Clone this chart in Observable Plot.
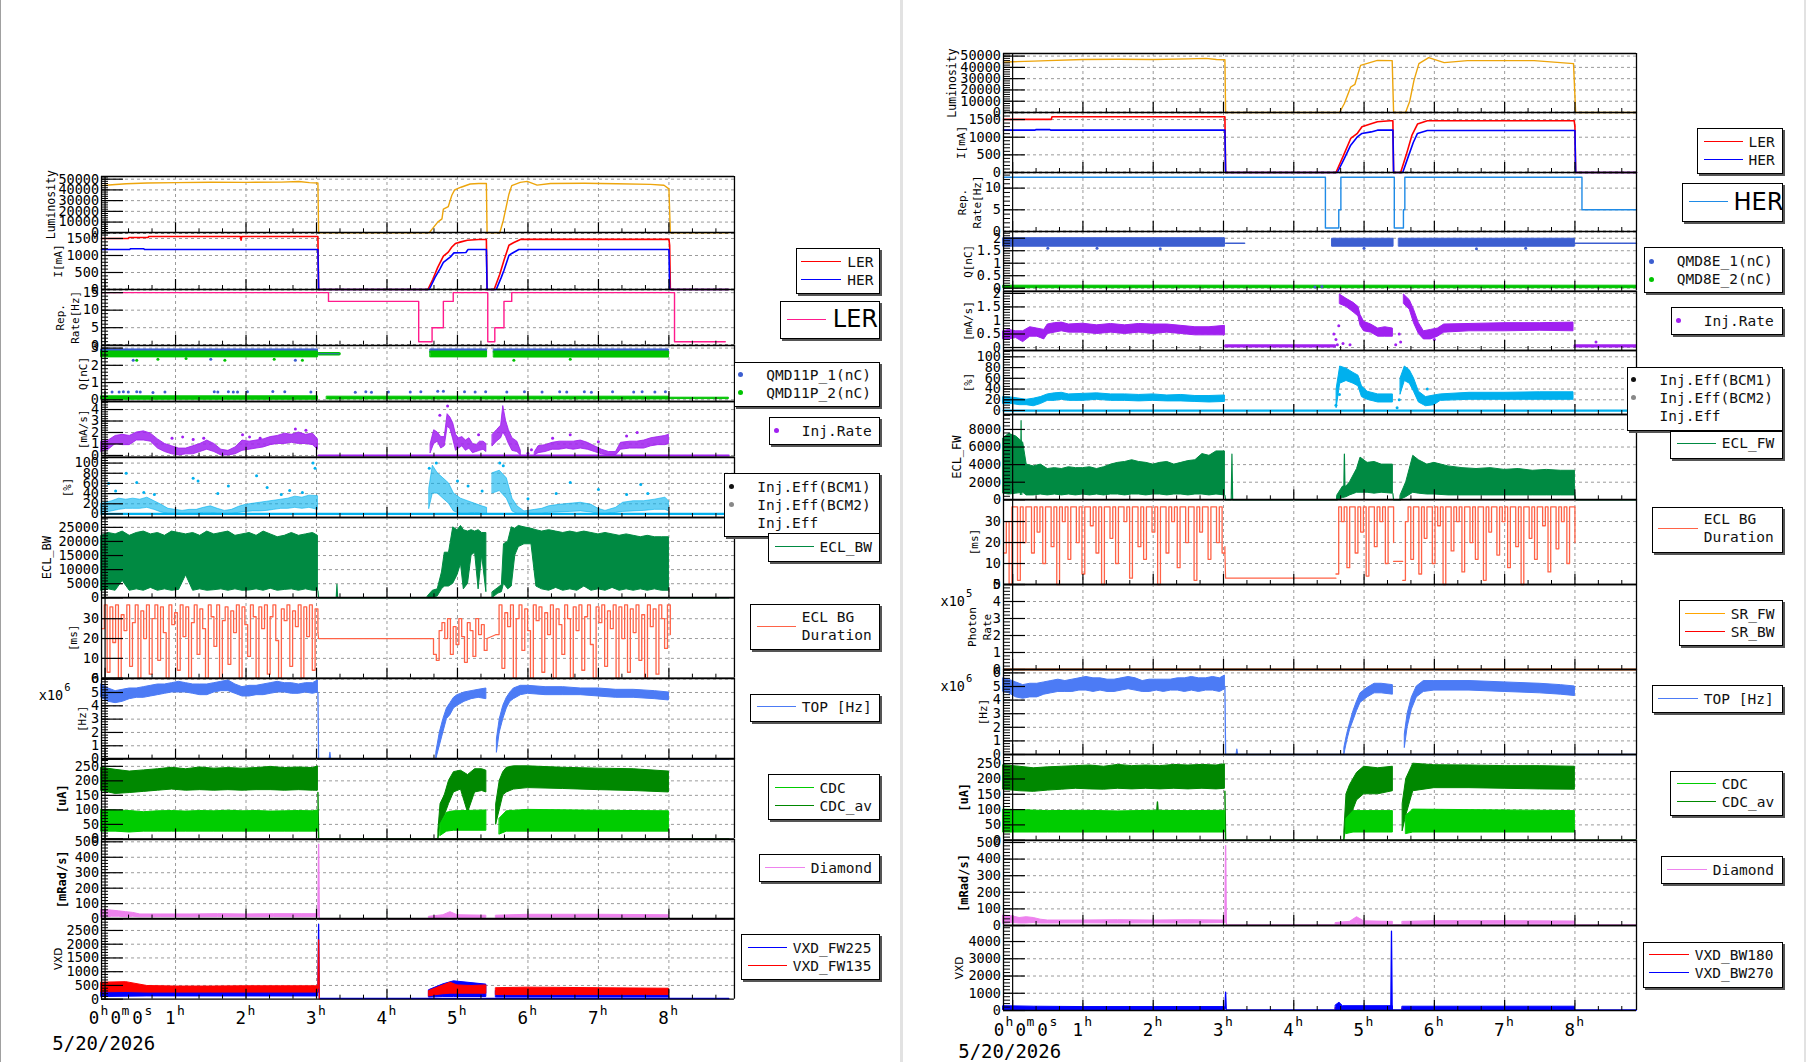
<!DOCTYPE html>
<html>
<head>
<meta charset="utf-8">
<script src="https://cdn.jsdelivr.net/npm/d3@7"></script>
<script src="https://cdn.jsdelivr.net/npm/@observablehq/plot@0.6"></script>
<style>
html,body{margin:0;padding:0;background:#fff;}
#page{position:relative;width:1806px;height:1062px;overflow:hidden;background:#fff;}
.pnl{position:absolute;}
.pnl svg{display:block;}
.lg{position:absolute;box-sizing:border-box;border:1.5px solid #000;background:#fff;box-shadow:2px 2px 0 #555;font-family:"DejaVu Sans Mono",monospace;font-size:14.5px;color:#111;}
.lg .t{position:absolute;white-space:pre;line-height:18px;height:18px;}
.lg .ln{position:absolute;height:0;}
.lg .dt{position:absolute;width:5px;height:5px;border-radius:50%;}
.sep{position:absolute;top:0;height:1062px;}
</style>
</head>
<body>
<div id="page"></div>
<script>
// ================= DATA (hours since 0h) =================
const hourTicks = [0,1,2,3,4,5,6,7,8];
const dateLabel = "5/20/2026";

// ---------- LEFT (LER) ----------
const lumL = [[-0.05,44000],[0.1,44800],[0.3,45800],[0.6,46500],[1.0,46800],[1.5,47200],[2.0,47000],[2.5,47300],[2.75,47800],[2.9,46800],[3.02,46500],[3.03,0],[4.6,0],[4.66,5000],[4.72,10000],[4.78,13000],[4.8,22000],[4.87,24500],[4.92,35000],[4.96,40000],[5.05,42500],[5.18,45500],[5.3,46000],[5.41,46000],[5.42,0],[5.6,0],[5.65,11500],[5.73,36000],[5.77,44000],[5.89,47000],[5.99,48000],[6.13,44500],[6.32,46000],[6.8,46200],[7.26,45800],[7.74,45200],[7.93,44300],[8.0,41000],[8.02,0],[8.85,0]];
const lerL = [[-0.05,1500],[0.33,1500],[0.34,1530],[0.61,1530],[0.62,1560],[1.92,1560],[1.93,1450],[1.94,1560],[3.02,1560],[3.03,0],[4.58,0],[4.65,300],[4.72,650],[4.8,980],[4.87,1100],[4.92,1250],[4.97,1350],[5.05,1400],[5.14,1450],[5.3,1470],[5.41,1470],[5.42,0],[5.52,0],[5.6,450],[5.66,860],[5.73,1300],[5.8,1380],[5.87,1450],[5.9,1475],[8.0,1475],[8.01,1300],[8.02,0],[8.85,0]];
const herL = [[-0.05,1176],[0.35,1176],[0.36,1200],[0.55,1200],[0.56,1176],[3.02,1176],[3.03,0],[4.6,0],[4.68,350],[4.75,600],[4.8,794],[4.9,960],[4.95,1076],[5.12,1090],[5.15,1176],[5.41,1176],[5.42,0],[5.55,0],[5.62,350],[5.66,567],[5.73,1000],[5.77,1060],[5.87,1176],[8.0,1176],[8.01,0],[8.85,0]];
const repL = [[-0.05,15],[3.17,15],[3.17,12.5],[4.45,12.5],[4.45,1],[4.64,1],[4.64,5],[4.8,5],[4.8,12.5],[4.94,12.5],[4.94,15],[5.43,15],[5.43,1],[5.53,1],[5.53,5],[5.66,5],[5.66,12.5],[5.77,12.5],[5.77,15],[8.08,15],[8.08,1],[8.8,1]];
const q1UpL = [[[-0.05,2.72,2.92],[3.02,2.72,2.92]],[[4.62,2.72,2.92],[5.42,2.72,2.92]],[[5.52,2.72,2.92],[8.0,2.72,2.92]]];
const q2UpL = [[[-0.05,2.46,2.8],[3.02,2.46,2.8]],[[4.62,2.46,2.8],[5.42,2.46,2.8]],[[5.52,2.45,2.8],[8.0,2.45,2.8]]];
const q2LowL = [[[-0.05,0.0,0.2],[3.02,0.0,0.2]],[[3.15,0.02,0.18],[8.0,0.02,0.18]],[[8.0,0.04,0.12],[8.85,0.04,0.12]]];
const qTailL = [[3.03,2.67],[3.32,2.67]];
const q1DotsL = [[0.1,0.45],[0.2,0.45],[0.26,0.47],[0.33,0.45],[0.45,0.46],[0.5,0.45],[0.68,0.42],[0.85,0.45],[1.55,0.46],[1.6,0.45],[1.75,0.47],[1.82,0.45],[1.88,0.45],[2.02,0.47],[2.38,0.48],[2.55,0.47],[2.92,0.45],[3.55,0.44],[3.7,0.46],[3.78,0.44],[4.02,0.45],[4.33,0.45],[4.48,0.46],[4.72,0.5],[4.8,0.5],[5.1,0.46],[5.25,0.45],[5.4,0.47],[5.7,0.45],[5.95,0.46],[6.2,0.45],[6.45,0.47],[6.55,0.45],[6.8,0.46],[6.9,0.44],[7.2,0.47],[7.5,0.45],[7.62,0.46],[7.8,0.45],[7.95,0.47],[0.4,2.3],[1.5,2.35],[2.7,2.3]];
const q2DotsL = [[0.45,2.3],[0.75,2.35],[1.15,2.4],[1.7,2.3],[2.4,2.35],[2.8,2.3],[5.8,2.3],[6.6,2.35]];
const injL = [
 [[-0.05,0.3,1.2],[0.05,0.5,1.3],[0.15,1.0,1.7],[0.25,0.9,1.8],[0.35,0.9,1.7],[0.45,1.3,2.0],[0.55,1.3,2.1],[0.65,1.2,1.9],[0.75,0.6,1.4],[0.85,0.3,1.0],[0.95,0.1,0.8],[1.05,0.0,0.6],[1.15,0.1,0.6],[1.25,0.1,0.8],[1.35,0.3,1.0],[1.45,0.5,1.3],[1.55,0.3,1.0],[1.65,0.0,0.5],[1.75,0.0,0.4],[1.85,0.1,0.7],[1.95,0.4,1.3],[2.05,0.5,1.2],[2.15,0.6,1.3],[2.25,0.7,1.4],[2.35,0.9,1.6],[2.45,1.0,1.7],[2.55,1.0,1.9],[2.65,1.1,1.8],[2.75,1.0,2.0],[2.85,1.0,1.8],[2.95,0.9,1.9],[3.02,0.5,1.4]],
 [[4.62,0.2,1.0],[4.67,1.0,2.2],[4.72,1.2,2.0],[4.77,0.6,1.6],[4.82,0.8,1.6],[4.86,2.5,3.6],[4.9,2.3,3.3],[4.94,1.4,2.8],[4.98,0.4,1.8],[5.02,0.6,1.5],[5.07,0.8,1.6],[5.12,0.4,1.3],[5.17,0.6,1.5],[5.22,0.2,1.0],[5.27,0.3,0.9],[5.32,0.4,1.2],[5.37,0.5,1.2],[5.41,0.3,1.0]],
 [[5.5,0.8,1.8],[5.56,1.2,2.2],[5.62,1.5,2.6],[5.65,2.0,4.3],[5.69,1.6,3.0],[5.73,1.0,2.2],[5.78,0.4,1.5],[5.85,0.3,1.2],[5.9,0.0,0.4]],
 [[6.1,0.0,0.3],[6.15,0.2,0.8],[6.25,0.3,0.9],[6.35,0.5,1.1],[6.45,0.5,1.2],[6.55,0.6,1.2],[6.65,0.5,1.2],[6.75,0.6,1.3],[6.85,0.5,1.1],[6.95,0.3,0.8],[7.05,0.1,0.5],[7.15,0.0,0.3],[7.25,0.0,0.3],[7.32,0.5,1.1],[7.45,0.6,1.2],[7.55,0.6,1.2],[7.65,0.6,1.3],[7.75,0.8,1.5],[7.85,0.9,1.6],[7.95,0.9,1.7],[8.0,1.0,1.8]]
];
const injBaseL = [[3.03,0],[8.85,0]];
const injDotsL = [[0.95,1.5],[1.1,1.6],[1.25,1.4],[1.4,1.5],[1.95,1.8],[2.05,1.6],[2.2,1.5],[2.7,2.3],[2.85,2.2],[4.75,3.5],[4.86,4.3],[5.3,1.8],[6.0,0.2],[6.05,0.5],[6.35,1.5],[6.6,1.8],[7.0,1.2],[7.4,1.7],[7.55,2.0]];
const effL = [
 [[-0.05,2,20],[0.1,5,25],[0.2,8,30],[0.3,10,28],[0.4,10,30],[0.5,10,28],[0.6,12,32],[0.7,8,25],[0.8,3,18],[0.9,0,10],[1.0,0,8],[1.1,0,6],[1.2,0,8],[1.3,0,8],[1.4,2,12],[1.5,2,15],[1.6,0,10],[1.7,0,6],[1.8,0,8],[1.9,2,14],[2.0,4,18],[2.1,5,20],[2.2,5,22],[2.3,6,24],[2.4,8,26],[2.5,10,28],[2.6,10,30],[2.7,12,34],[2.8,10,32],[2.9,12,36],[3.02,8,35]],
 [[4.6,10,50],[4.65,40,95],[4.72,40,80],[4.8,30,70],[4.88,20,60],[4.95,5,40],[5.05,0,30],[5.15,0,25],[5.25,2,20],[5.35,0,15],[5.42,0,12]],
 [[5.5,40,80],[5.6,45,85],[5.7,30,70],[5.78,5,30],[5.85,0,15],[5.95,0,5],[6.1,0,8],[6.2,0,10],[6.3,2,15],[6.45,3,18],[6.6,4,20],[6.75,5,22],[6.9,3,18],[7.0,0,10],[7.1,0,6],[7.25,2,12],[7.35,4,22],[7.5,5,25],[7.65,6,25],[7.8,8,28],[7.95,8,32],[8.0,5,25]]
];
const effBaseL = [[-0.05,0],[8.85,0]];
const effDotsL = [[0.05,60],[0.15,45],[0.3,80],[0.45,62],[0.55,42],[0.7,38],[1.25,70],[1.32,65],[1.6,40],[1.75,55],[2.15,75],[2.3,52],[2.5,38],[2.62,46],[2.8,42],[2.95,100],[2.98,90],[4.6,90],[4.7,100],[5.0,65],[5.15,55],[5.35,45],[5.6,100],[5.65,95],[6.0,30],[6.4,40],[6.6,62],[7.0,48],[7.4,38],[7.6,58],[7.7,40]];
const eclL = [
 [[-0.05,2500,22000],[0.05,3000,23000],[0.15,2500,22500],[0.25,6000,23500],[0.35,2500,22000],[0.45,3000,23000],[0.55,2500,23500],[0.65,3500,22500],[0.75,2500,23000],[0.85,3000,22000],[0.95,2500,23500],[1.05,2800,23000],[1.15,8000,22500],[1.25,2500,23000],[1.35,3000,22000],[1.45,2500,23500],[1.55,2700,22500],[1.65,3000,23000],[1.75,2500,23500],[1.85,3000,22000],[1.95,2500,22500],[2.05,2600,23000],[2.15,3000,22000],[2.25,2500,23500],[2.35,3200,22500],[2.45,2500,21500],[2.55,2800,22000],[2.65,3000,23000],[2.75,2500,22000],[2.85,3000,22500],[2.95,2500,23000],[3.02,2500,22000]],
 [[4.58,0,500],[4.65,0,2500],[4.72,500,3000],[4.78,3000,9000],[4.82,4000,16000],[4.88,4000,16000],[4.94,5000,25000],[5.0,8000,24000],[5.05,12000,25500],[5.09,3000,24000],[5.15,5000,23500],[5.2,15000,24000],[5.25,16000,23500],[5.3,3000,24000],[5.35,15000,23000],[5.41,2000,23000]],
 [[5.5,0,2000],[5.58,1500,3500],[5.63,2000,4500],[5.66,5000,19000],[5.72,3000,20000],[5.77,4000,25000],[5.82,15000,24500],[5.87,18000,25500],[5.95,19000,25000],[6.05,19000,24500],[6.12,4000,24000],[6.2,3000,23500],[6.3,2500,24000],[6.4,3500,23500],[6.5,2500,23000],[6.6,3000,23500],[6.7,2500,23000],[6.8,4000,23500],[6.9,2500,23000],[7.0,3000,22500],[7.1,2500,23000],[7.2,3500,22500],[7.3,2500,22000],[7.4,3000,22500],[7.5,2500,22000],[7.6,3000,21500],[7.7,2500,22000],[7.8,3000,21500],[7.9,2500,21500],[8.0,2500,21500]]
];
const eclBaseL = [[3.02,2500],[3.03,0],[3.28,0],[3.29,4800],[3.3,0],[8.85,0]];
const bgL = [
 {t0:-0.05, t1:3.02, v:[25,37,3,36,18,37,0,32,24,37,6,28,37,0,34,20,37,2,30,37,9,36,23,0,37,27,33,4,37,21,36,0,28,37,12,35,25,0,37,31,16,37,0,29,36,7,34,23,37,0,36,27,11,37,31,0,36,25,37,2,31,37,19,0,35,29,37,6,34,26,37,0,36,21,37,4,35,23]},
 {t0:4.62, t1:5.42, v:[20,12,9,24,28,20,30,12,26,17,30,21,8,28,24,11,30,22,27,14,20]},
 {t0:5.55, t1:8.02, v:[22,37,5,33,26,37,0,30,37,14,35,24,0,37,29,36,3,33,22,37,0,35,27,12,37,30,0,36,24,37,4,31,37,17,0,36,28,37,6,34,25,37,0,36,20,37,3,35,23,37,9,32,0,37,26,35,2,37,30,15,37,22]}
];
const bgFlatL = [[[3.02,23],[3.03,20],[4.62,20]],[[5.42,20],[5.55,22]]];
const topL = [
 [[-0.05,4.6,5.6],[0.05,4.3,5.3],[0.15,4.2,5.1],[0.25,4.3,5.2],[0.35,4.5,5.3],[0.45,4.6,5.3],[0.55,4.6,5.4],[0.65,4.7,5.5],[0.75,4.8,5.6],[0.85,4.9,5.6],[0.95,5.0,5.7],[1.05,5.0,5.8],[1.15,5.0,5.7],[1.25,4.9,5.6],[1.35,4.8,5.6],[1.45,4.8,5.6],[1.55,5.0,5.7],[1.65,5.1,5.8],[1.75,5.1,5.9],[1.85,4.9,5.6],[1.95,4.7,5.4],[2.05,4.7,5.5],[2.15,4.8,5.5],[2.25,4.8,5.6],[2.35,4.9,5.7],[2.45,5.0,5.8],[2.55,5.0,5.7],[2.65,4.9,5.7],[2.75,4.9,5.6],[2.85,5.0,5.7],[2.95,4.9,5.7],[3.02,5.0,5.9]],
 [[4.7,0,0.5],[4.75,1,2],[4.8,2,3],[4.85,3,3.8],[4.9,3.3,4.2],[4.95,3.8,4.6],[5.0,4.0,4.8],[5.1,4.3,5.0],[5.2,4.5,5.1],[5.3,4.6,5.2],[5.41,4.5,5.3]],
 [[5.56,0.5,1.5],[5.6,2,3],[5.65,3,4],[5.7,3.8,4.6],[5.75,4.3,5.0],[5.8,4.5,5.3],[5.9,4.8,5.5],[6.0,4.9,5.5],[6.25,4.8,5.4],[6.5,4.8,5.4],[6.75,4.8,5.3],[7.0,4.7,5.3],[7.25,4.6,5.2],[7.5,4.6,5.2],[7.8,4.5,5.1],[8.0,4.4,5.0]]
];
const topBaseL = [[3.02,5.0],[3.03,0],[3.18,0],[3.19,0.5],[3.2,0],[8.85,0]];
const cdcavL = [
 [[-0.05,165,245],[0.15,155,238],[0.35,158,232],[0.55,162,236],[0.75,166,240],[0.95,170,245],[1.15,166,240],[1.35,168,246],[1.55,166,242],[1.75,168,244],[1.95,166,242],[2.15,168,244],[2.35,168,248],[2.55,166,244],[2.75,168,246],[2.95,166,244],[3.02,166,250]],
 [[4.73,0,30],[4.76,50,120],[4.82,80,150],[4.88,120,200],[4.95,160,230],[5.05,170,235],[5.15,90,220],[5.25,160,240],[5.35,165,240],[5.41,160,235]],
 [[5.55,50,120],[5.6,100,200],[5.65,150,230],[5.7,160,245],[5.8,170,250],[6.0,175,250],[6.5,172,245],[7.0,168,242],[7.5,165,240],[8.0,160,232]]
];
const cdcL = [
 [[-0.05,25,100],[0.15,25,98],[0.35,22,96],[0.55,25,92],[0.75,25,95],[0.95,25,96],[1.15,25,94],[1.35,25,96],[1.55,25,95],[1.75,25,97],[1.95,25,95],[2.15,25,96],[2.35,25,94],[2.55,25,95],[2.75,25,96],[2.95,25,95],[3.02,25,98]],
 [[4.76,10,50],[4.85,25,90],[4.95,28,95],[5.41,28,98]],
 [[5.6,15,70],[5.7,25,95],[6.0,25,100],[7.0,25,97],[8.0,25,95]]
];
const cdcBaseL = [[3.02,160],[3.03,0],[8.85,0]];
const diaL = [
 [[-0.05,10,60],[0.1,15,55],[0.2,15,50],[0.3,12,45],[0.4,15,40],[0.5,12,30],[0.8,13,30],[1.2,12,30],[1.6,13,32],[2.0,12,30],[2.4,13,32],[2.8,12,32],[3.02,13,32]],
 [[4.6,5,15],[4.8,8,25],[4.9,10,45],[5.0,8,25],[5.41,8,22]],
 [[5.55,8,22],[6.0,10,28],[7.0,10,28],[8.0,10,25]]
];
const diaBaseL = [[3.02,20],[3.03,484],[3.04,0],[8.85,0]];
const vxdRedL = [
 [[-0.05,250,600],[0.3,260,620],[0.6,240,480],[1.0,240,460],[1.5,240,460],[2.0,240,470],[2.5,240,470],[3.02,240,470]],
 [[4.6,100,300],[4.7,150,400],[4.8,180,500],[4.9,200,600],[5.0,200,500],[5.2,200,480],[5.41,200,500]],
 [[5.55,150,400],[6.0,150,420],[7.0,150,400],[8.0,150,380]]
];
const vxdBlueL = [
 [[-0.05,80,260],[0.6,100,250],[3.02,100,250]],
 [[4.6,60,330],[4.8,80,540],[4.95,80,650],[5.41,80,530]],
 [[5.55,60,300],[8.0,60,300]]
];
const vxdSpikeBlueL = [[3.02,250],[3.03,2730],[3.04,25],[8.85,25]];
const vxdSpikeRedL = [[3.02,400],[3.03,2160],[3.04,20]];

// ---------- RIGHT (HER) ----------
const lumR = [[-0.13,44500],[0.0,45000],[0.3,45500],[0.5,46000],[1.0,47000],[1.5,47200],[2.0,47000],[2.5,47500],[2.75,48000],[2.9,47000],[3.02,46800],[3.03,0],[4.65,0],[4.72,8000],[4.81,22600],[4.87,25000],[4.95,41800],[5.19,46200],[5.4,46000],[5.42,0],[5.59,0],[5.65,10000],[5.71,28500],[5.78,43300],[5.92,48600],[6.14,44200],[6.47,46000],[7.42,46000],[7.98,43300],[8.01,0],[8.876,0]];
const lerR = [[-0.13,1506],[0.55,1506],[0.56,1580],[3.02,1580],[3.03,0],[4.6,0],[4.7,450],[4.81,965],[4.9,1100],[4.97,1295],[5.1,1380],[5.19,1437],[5.37,1466],[5.41,1466],[5.42,0],[5.52,0],[5.6,500],[5.68,1050],[5.76,1372],[5.9,1466],[7.99,1466],[8.0,1300],[8.01,0],[8.876,0]];
const herR = [[-0.13,1200],[0.32,1200],[0.33,1215],[0.53,1215],[0.54,1200],[3.02,1200],[3.03,0],[4.62,0],[4.72,400],[4.81,775],[4.9,1000],[4.97,1107],[5.1,1150],[5.19,1200],[5.41,1200],[5.42,0],[5.55,0],[5.62,400],[5.7,850],[5.76,1107],[5.9,1190],[8.0,1190],[8.01,0],[8.876,0]];
const repR = [[-0.13,12.5],[4.45,12.5],[4.45,0.8],[4.64,0.8],[4.64,5],[4.67,5],[4.67,12.5],[5.43,12.5],[5.43,0.8],[5.56,0.8],[5.56,5],[5.58,5],[5.58,12.5],[8.1,12.5],[8.1,5],[8.876,5]];
const q1R = [[[-0.13,1.66,2.0],[3.02,1.66,2.0]],[[4.55,1.66,1.98],[5.42,1.66,1.98]],[[5.5,1.66,1.98],[8.0,1.66,1.98]]];
const q1LineR = [[[3.03,1.8],[3.3,1.8]],[[8.0,1.8],[8.876,1.8]]];
const q2R = [[[-0.13,0.0,0.1],[8.876,0.0,0.1]]];
const q1DotsR = [[0.5,1.6],[1.2,1.6],[2.1,1.58],[4.3,0.05],[4.4,0.07],[5.0,1.6],[6.6,1.58],[7.3,1.6]];
const injR = [
 [[-0.13,0.3,0.6],[-0.05,0.3,0.65],[0.05,0.35,0.6],[0.15,0.2,0.6],[0.25,0.4,0.75],[0.35,0.4,0.7],[0.45,0.3,0.65],[0.5,0.5,0.85],[0.6,0.55,0.9],[0.7,0.6,0.92],[0.8,0.55,0.85],[1.0,0.55,0.88],[1.2,0.5,0.82],[1.4,0.55,0.87],[1.6,0.5,0.82],[1.8,0.55,0.87],[2.0,0.5,0.85],[2.2,0.55,0.85],[2.4,0.5,0.8],[2.6,0.45,0.75],[2.8,0.45,0.75],[3.02,0.45,0.8]],
 [[3.03,0.0,0.08],[4.6,0.0,0.08]],
 [[4.66,1.6,1.95],[4.75,1.5,1.8],[4.85,1.3,1.65],[4.92,1.15,1.5],[4.95,0.8,1.2],[5.0,0.6,0.95],[5.1,0.55,0.85],[5.2,0.4,0.7],[5.3,0.4,0.75],[5.41,0.4,0.7]],
 [[5.57,1.6,1.95],[5.65,1.4,1.75],[5.71,0.9,1.4],[5.78,0.5,0.9],[5.85,0.3,0.6],[5.95,0.3,0.65],[6.05,0.4,0.7],[6.14,0.55,0.85],[6.5,0.6,0.87],[7.0,0.6,0.9],[7.5,0.62,0.9],[7.98,0.6,0.92]],
 [[8.0,0.0,0.08],[8.876,0.0,0.08]]
];
const injDotsR = [[4.57,0.5],[4.6,0.3],[4.62,0.1],[4.64,0.8],[4.7,0.15],[4.8,0.1],[5.45,0.1],[5.5,0.5],[5.52,0.2],[6.0,0.3],[8.3,0.2]];
const effR = [
 [[-0.13,12,25],[0.0,12,24],[0.1,10,22],[0.2,10,20],[0.3,8,22],[0.4,12,25],[0.5,18,30],[0.6,18,32],[0.7,20,33],[0.8,18,30],[1.0,18,31],[1.2,20,32],[1.4,18,30],[1.6,18,30],[1.8,17,29],[2.0,18,30],[2.2,17,28],[2.4,17,29],[2.6,16,27],[2.8,15,27],[3.02,16,28]],
 [[4.61,5,40],[4.66,50,82],[4.75,55,78],[4.85,50,70],[4.92,45,65],[4.97,25,45],[5.05,20,35],[5.2,15,30],[5.41,15,30]],
 [[5.52,30,60],[5.58,55,82],[5.65,50,75],[5.71,35,60],[5.78,15,35],[5.88,8,25],[6.0,10,28],[6.09,18,30],[6.5,20,33],[7.0,20,33],[7.5,20,34],[7.98,20,34]]
];
const effBaseR = [[-0.13,0],[8.876,0]];
const effDotsR = [[4.6,10],[4.65,30],[5.47,5],[5.5,20],[5.9,40]];
const eclfwR = [
 [[-0.13,700,7000],[-0.05,600,7500],[0.05,700,7200],[0.15,800,6500],[0.2,500,4000],[0.3,500,3800],[0.4,600,4000],[0.5,500,3500],[0.6,600,3600],[0.7,500,3500],[0.8,600,3700],[0.9,500,3600],[1.0,600,3600],[1.1,500,3700],[1.2,600,3500],[1.3,500,3700],[1.4,600,4000],[1.5,600,4200],[1.6,500,4300],[1.7,600,4500],[1.8,600,4300],[1.9,500,4200],[2.0,600,4000],[2.1,600,4200],[2.2,500,4300],[2.3,600,4000],[2.4,600,4200],[2.5,500,4400],[2.6,600,4500],[2.7,600,5200],[2.8,500,5000],[2.9,600,5500],[3.02,500,5500]],
 [[4.62,0,500],[4.7,200,1500],[4.75,300,1500],[4.8,500,2000],[4.9,800,3500],[4.95,800,4800],[5.05,800,4200],[5.15,700,4300],[5.25,800,4000],[5.41,700,4000]],
 [[5.52,0,500],[5.6,300,2000],[5.7,800,5000],[5.78,700,4500],[5.9,600,4000],[6.0,600,4200],[6.2,500,3800],[6.4,500,3600],[6.6,500,3500],[6.8,500,3600],[7.0,500,3400],[7.2,500,3500],[7.4,500,3300],[7.6,500,3400],[7.8,500,3300],[8.0,500,3300]]
];
const eclfwLinesR = [[[0.11,600],[0.12,9000],[0.13,600]],[[3.02,500],[3.03,0],[3.11,0],[3.12,5200],[3.13,0],[4.62,0]],[[4.71,500],[4.72,5200],[4.73,500]],[[5.41,700],[5.42,0],[5.52,0]],[[8.0,500],[8.01,0],[8.876,0]]];
const bgR = [
 {t0:-0.13, t1:3.02, v:[15,30,0,37,37,2,37,20,37,37,15,37,25,37,10,37,37,18,37,0,37,30,37,12,37,37,20,37,5,37,37,28,37,15,37,0,37,37,22,37,10,37,37,30,37,3,37,37,18,37,12,37,37,25,37,0,37,37,15,37,30,37,8,37,37,20,37,37,2,37,25,37,37,12,37,37,20,37,15,18]},
 {t0:4.6, t1:5.42, v:[5,37,30,37,8,37,37,15,37,25,37,4,37,37,18,37,30,37,10,37,37,20]},
 {t0:5.55, t1:8.0, v:[2,30,37,12,37,37,5,37,22,37,37,10,37,28,37,0,37,37,16,37,30,37,6,37,37,20,37,12,37,37,2,37,25,37,37,14,37,30,37,8,37,37,18,37,0,37,37,22,37,12,37,37,28,37,6,37,37,17,37,30,37,10,37,37,20]}
];
const bgFlatR = [[[3.02,15],[3.03,3],[4.6,3]],[[5.42,11],[5.55,11]]];
const srR = [[-0.13,0],[8.876,0]];
const topR = [
 [[-0.13,4.6,5.6],[-0.05,4.5,5.5],[0.05,4.2,5.3],[0.15,4.1,5.1],[0.25,4.2,5.2],[0.35,4.2,5.2],[0.45,4.4,5.3],[0.55,4.5,5.4],[0.65,4.6,5.5],[0.75,4.6,5.4],[0.85,4.6,5.5],[0.95,4.7,5.6],[1.05,4.7,5.7],[1.15,4.6,5.6],[1.25,4.7,5.6],[1.35,4.6,5.5],[1.45,4.6,5.5],[1.55,4.7,5.6],[1.65,4.8,5.7],[1.75,4.7,5.6],[1.85,4.6,5.4],[1.95,4.6,5.5],[2.05,4.7,5.5],[2.15,4.6,5.5],[2.25,4.7,5.5],[2.35,4.7,5.6],[2.45,4.6,5.6],[2.55,4.7,5.7],[2.65,4.6,5.6],[2.75,4.7,5.6],[2.85,4.7,5.7],[2.95,4.6,5.6],[3.02,4.8,5.8]],
 [[4.72,0,0.5],[4.76,1,1.5],[4.8,1.8,2.3],[4.85,2.5,3.2],[4.9,3.2,3.9],[4.95,3.8,4.5],[5.05,4.2,4.9],[5.15,4.5,5.2],[5.25,4.5,5.2],[5.41,4.4,5.1]],
 [[5.58,0.5,1.5],[5.62,2,3],[5.68,3.3,4.2],[5.75,4.2,5.0],[5.85,4.6,5.4],[6.0,4.7,5.4],[6.5,4.7,5.4],[7.0,4.6,5.3],[7.5,4.5,5.2],[7.8,4.4,5.1],[8.0,4.3,5.0]]
];
const topBaseR = [[3.02,5.0],[3.03,0],[3.18,0],[3.19,0.4],[3.2,0],[8.876,0]];
const cdcavR = [
 [[-0.13,165,245],[0.1,160,240],[0.3,158,235],[0.5,162,238],[0.7,165,240],[0.9,168,242],[1.1,166,244],[1.3,165,240],[1.5,168,246],[1.7,166,242],[1.9,168,244],[2.1,166,242],[2.3,168,246],[2.5,166,244],[2.7,168,246],[2.9,166,244],[3.02,168,248]],
 [[4.72,0,30],[4.75,50,150],[4.8,60,180],[4.85,100,200],[4.9,130,220],[5.0,150,240],[5.2,150,235],[5.41,160,240]],
 [[5.55,30,120],[5.6,80,200],[5.7,160,250],[6.0,170,245],[6.5,170,244],[7.0,168,242],[7.5,166,242],[8.0,165,240]]
];
const cdcR = [
 [[-0.13,25,100],[0.5,25,95],[1.0,25,96],[1.5,25,94],[2.0,25,96],[2.5,25,95],[3.02,25,96]],
 [[4.75,20,70],[4.85,25,95],[5.41,25,95]],
 [[5.6,20,80],[5.7,25,100],[8.0,25,95]]
];
const cdcLinesR = [[[2.05,95],[2.06,125],[2.07,95]],[[3.02,160],[3.03,0],[8.876,0]]];
const diaR = [
 [[-0.13,10,60],[0.0,15,55],[0.1,12,45],[0.2,12,50],[0.3,15,45],[0.4,12,35],[0.5,12,30],[1.0,13,30],[1.5,12,32],[2.0,13,30],[2.5,12,32],[3.02,15,30]],
 [[4.6,5,15],[4.8,8,22],[4.9,10,50],[5.0,8,25],[5.41,8,22]],
 [[5.55,8,22],[6.0,10,26],[7.0,10,26],[8.0,10,24]]
];
const diaBaseR = [[3.02,20],[3.03,480],[3.04,3],[8.876,3]];
const vxdRedR = [[[-0.13,20,120],[3.02,20,120]],[[4.6,20,150],[5.41,20,150]],[[5.55,20,120],[8.0,20,120]]];
const vxdBlueR = [[[-0.13,30,250],[0.3,30,220],[1.0,30,200],[2.0,30,200],[3.02,30,200]],[[4.6,30,300],[4.65,30,450],[4.7,30,250],[5.41,30,250]],[[5.55,30,220],[8.0,30,220]]];
const vxdLineR = [[3.02,100],[3.03,1060],[3.04,30],[5.38,30],[5.39,4600],[5.4,30],[8.876,30]];

// ================= STYLE =================
const MONO = "DejaVu Sans Mono";
const C = {lum:"#eda50c", ler:"#ff0000", her:"#0000ff", repL:"#ff1a8c", repH:"#1f8be6",
  q1:"#3c5ed0", q2:"#00c400", inj:"#a020f0", eff:"#00b0ee", ecl:"#008a42",
  bg:"#ff6347", top:"#4c7bf5", cdc:"#00cc00", cdcav:"#008800", dia:"#ee82ee", sr:"#ffa500"};
const page = document.getElementById("page");
const minorHours = d3.range(0, 27).map(k => k/3).filter(h => Math.abs(h - Math.round(h)) > 1e-6);

const XY = {x: d => d[0], y: d => d[1]};
const line = (pts, c, w = 1.3) => Plot.line(pts, {...XY, stroke: c, strokeWidth: w});
const lines = (arr, c, w) => arr.map(p => line(p, c, w));
const bands = (segs, c, op = 1) => segs.map(s => Plot.areaY(s, {x: d => d[0], y1: d => d[1], y2: d => d[2], fill: c, fillOpacity: op, stroke: c, strokeOpacity: op, strokeWidth: 1}));
const dots = (pts, c, r = 1.5) => Plot.dot(pts, {...XY, fill: c, r});
const zig = (segs, c) => segs.map(s => Plot.line(s.v.map((v, i) => [s.t0 + (s.t1 - s.t0) * i / (s.v.length - 1), v]), {...XY, stroke: c, strokeWidth: 1.3, curve: "step-after"}));

const zeroParts = [{s:"0",big:1,dx:-16.2},{s:"h",big:0,dx:-4.5},{s:"0",big:1,dx:5.5},{s:"m",big:0,dx:16.5},{s:"0",big:1,dx:27.2},{s:"s",big:0,dx:39.5}];

function addPanel(chart, p) {
  const H = p.bottom - p.top;
  const plotW = chart.plotRight - chart.plotLeft;
  const [y0, y1] = p.yDom;
  const m = [];
  m.push(Plot.ruleY(p.ticks.filter(v => v > y0 && v < y1), {y: d => d, stroke: "#9a9a9a", strokeDasharray: "3,3", strokeWidth: 1}));
  m.push(Plot.ruleX(hourTicks.filter(h => h > 0), {x: d => d, stroke: "#9a9a9a", strokeDasharray: "3,3", strokeWidth: 1}));
  m.push(...p.marks);
  if (p.minor) m.push(Plot.tickY(d3.range(0, y1, p.minor), {y: d => d, insetRight: plotW - 7, stroke: "#000", strokeWidth: 1}));
  m.push(Plot.tickY(p.ticks, {y: d => d, insetRight: plotW - 22, stroke: "#000", strokeWidth: 1.2}));
  m.push(Plot.tickX(minorHours, {x: d => d, insetTop: H - 4, stroke: "#000"}));
  m.push(Plot.tickX(hourTicks, {x: d => d, insetTop: H - 10, stroke: "#000", strokeWidth: 1.2}));
  m.push(Plot.ruleX([0], {x: d => d, stroke: "#000", strokeWidth: 1.2}));
  m.push(Plot.ruleX(chart.xDom, {x: d => d, stroke: "#000", strokeWidth: 1.3}));
  m.push(Plot.ruleY([y1], {y: d => d, stroke: "#000", strokeWidth: 1.3}));
  m.push(Plot.ruleY([y0], {y: d => d, stroke: "#000", strokeWidth: 1.3, ...(p.dash ? {strokeDasharray: "3,3"} : {})}));
  m.push(Plot.text(p.ticks, {y: d => d, text: d => String(d), frameAnchor: "left", textAnchor: "end", dx: -2.5, fontSize: 13.5, fontFamily: MONO, fill: "#000"}));
  for (const t of p.titles) m.push(Plot.text([t.s], {text: d => d, frameAnchor: "left", dx: t.dx, rotate: -90, textAnchor: "middle", fontSize: t.fs || 11, fontFamily: t.ff || MONO, fontWeight: t.bold ? "bold" : "normal", fill: "#000"}));
  if (p.exp) {
    m.push(Plot.text(["x10"], {text: d => d, frameAnchor: "top-left", textAnchor: "start", dx: chart.expDx, dy: 11.5, fontSize: 13.5, fontFamily: MONO, fill: "#000"}));
    m.push(Plot.text([p.exp], {text: d => d, frameAnchor: "top-left", textAnchor: "start", dx: chart.expDx + 25.5, dy: 5, fontSize: 10.5, fontFamily: MONO, fill: "#000"}));
  }
  if (p.xlabels) {
    const base = {frameAnchor: "bottom", fontFamily: MONO, fill: "#000"};
    m.push(Plot.text(hourTicks.slice(1), {...base, x: d => d, text: d => String(d), textAnchor: "end", dy: 25, fontSize: 17.5}));
    m.push(Plot.text(hourTicks.slice(1), {...base, x: d => d, text: () => "h", textAnchor: "start", dx: 1.4, dy: 15.5, fontSize: 13}));
    for (const z of zeroParts) m.push(Plot.text([0], {...base, x: d => d, text: () => z.s, textAnchor: "start", dx: z.dx + chart.zeroShift, dy: z.big ? 25 : 15.5, fontSize: z.big ? 17.5 : 13}));
    m.push(Plot.text([0], {...base, x: d => d, text: () => dateLabel, textAnchor: "start", dx: chart.dateDx, dy: chart.dateDy, fontSize: 19}));
  }
  const svg = Plot.plot({
    width: chart.plotRight - chart.svgLeft + 1, height: H,
    marginLeft: chart.plotLeft - chart.svgLeft, marginRight: 1, marginTop: 0, marginBottom: 0,
    x: {domain: chart.xDom, axis: null}, y: {domain: p.yDom, axis: null},
    style: {background: "transparent", overflow: "visible"},
    marks: m
  });
  const div = document.createElement("div");
  div.className = "pnl";
  div.style.left = chart.svgLeft + "px";
  div.style.top = p.top + "px";
  div.appendChild(svg);
  page.appendChild(div);
}

function addLegend(L) {
  const bw = 1.5;
  const b = document.createElement("div");
  b.className = "lg";
  b.style.left = L.x + "px"; b.style.top = L.y + "px"; b.style.width = L.w + "px"; b.style.height = L.h + "px";
  const sw = (cy, c) => { const s = document.createElement("div"); s.className = "ln"; s.style.left = (L.sx - bw) + "px"; s.style.top = (cy - bw - 0.6) + "px"; s.style.width = L.sw + "px"; s.style.borderTop = "1.3px solid " + c; b.appendChild(s); };
  if (L.swatch) sw(L.swatch.cy, L.swatch.c);
  for (const r of L.rows) {
    if (r.kind === "line") sw(r.cy, r.c);
    else if (r.kind === "dot") { const d = document.createElement("div"); d.className = "dt"; d.style.left = (L.sx - 2.5 - bw) + "px"; d.style.top = (r.cy - 2.5 - bw) + "px"; d.style.background = r.c; b.appendChild(d); }
    const t = document.createElement("div"); t.className = "t"; t.textContent = r.s;
    t.style.left = (L.tx - bw) + "px";
    if (r.big) { t.style.fontFamily = "DejaVu Sans"; t.style.fontSize = "24px"; t.style.lineHeight = "28px"; t.style.height = "28px"; t.style.top = (r.cy - 14 - bw) + "px"; t.style.color = "#000"; }
    else t.style.top = (r.cy - 9 - bw) + "px";
    b.appendChild(t);
  }
  page.appendChild(b);
}

// page frame lines
[[0,1,"#a0a0a0"],[900,3,"#e2e2e2"],[1804,2,"#e2e2e2"]].forEach(([x,w,c]) => { const s = document.createElement("div"); s.className = "sep"; s.style.left = x + "px"; s.style.width = w + "px"; s.style.background = c; page.appendChild(s); });

// ================= LEFT CHART =================
const chartL = {svgLeft: 0, plotLeft: 101, plotRight: 734, xDom: [-0.05, 8.93], zeroShift: 0, dateDx: -52.8, dateDy: 51, expDx: -62.7};
const panelsL = [
 {top:176, bottom:232.3, yDom:[0,52500], ticks:[0,10000,20000,30000,40000,50000], minor:2000, dash:true,
  titles:[{s:"Luminosity", dx:-50.3, fs:11.5}], marks:[line(lumL, C.lum, 1.4)]},
 {top:232.3, bottom:289.3, yDom:[0,1676], ticks:[0,500,1000,1500], minor:100, dash:true,
  titles:[{s:"I[mA]", dx:-43}], marks:[line(lerL, C.ler, 1.6), line(herL, C.her, 1.6)]},
 {top:289.3, bottom:345, yDom:[0,15.9], ticks:[0,5,10,15], minor:1, dash:true,
  titles:[{s:"Rep.", dx:-41},{s:"Rate[Hz]", dx:-26}], marks:[line(repL, C.repL, 1.4)]},
 {top:345, bottom:401, yDom:[-0.1,3.15], ticks:[0,1,2,3], minor:0.2,
  titles:[{s:"Q[nC]", dx:-18.3}], marks:[...bands(q1UpL, C.q1), ...bands(q2UpL, C.q2), ...bands(q2LowL, C.q2), line(qTailL, C.q2, 3.5), line(qTailL, C.q1, 1.2), dots(q1DotsL, C.q1), dots(q2DotsL, C.q2)]},
 {top:401, bottom:456.7, yDom:[-0.15,4.7], ticks:[0,1,2,3,4], minor:0.2,
  titles:[{s:"[mA/s]", dx:-18.3}], marks:[line(injBaseL, C.inj, 2), ...bands(injL, C.inj, 0.85), dots(injDotsL, C.inj)]},
 {top:456.7, bottom:516.7, yDom:[-7,111], ticks:[0,20,40,60,80,100], minor:5,
  titles:[{s:"[%]", dx:-34.3, fs:10.5}], marks:[line(effBaseL, C.eff, 2.2), ...bands(effL, C.eff, 0.6), dots(effDotsL, C.eff)]},
 {top:516.7, bottom:597, yDom:[0,28500], ticks:[0,5000,10000,15000,20000,25000], minor:1000,
  titles:[{s:"ECL_BW", dx:-54.3, fs:12}], marks:[line(eclBaseL, C.ecl, 1.2), ...bands(eclL, C.ecl)]},
 {top:597, bottom:677.7, yDom:[0,40.7], ticks:[0,10,20,30],
  titles:[{s:"[ms]", dx:-28.3}], marks:[...zig(bgL, C.bg), ...lines(bgFlatL, C.bg, 1.2)]},
 {top:677.7, bottom:758.3, yDom:[0,6.05], ticks:[0,1,2,3,4,5,6], minor:0.2, exp:"6",
  titles:[{s:"[Hz]", dx:-19.3}], marks:[line(topBaseL, C.top, 1.3), ...bands(topL, C.top)]},
 {top:758.3, bottom:838.7, yDom:[0,277], ticks:[0,50,100,150,200,250], minor:10,
  titles:[{s:"[uA]", dx:-39, bold:true, fs:12}], marks:[line(cdcBaseL, C.cdcav, 1.4), ...bands(cdcavL, C.cdcav), ...bands(cdcL, C.cdc)]},
 {top:838.7, bottom:918.3, yDom:[0,515], ticks:[0,100,200,300,400,500], minor:20,
  titles:[{s:"[mRad/s]", dx:-39, bold:true, fs:12}], marks:[line(diaBaseL, C.dia, 1.4), ...bands(diaL, C.dia)]},
 {top:918.3, bottom:999, yDom:[0,2935], ticks:[0,500,1000,1500,2000,2500], minor:100, xlabels:true,
  titles:[{s:"VXD", dx:-43, fs:10.5, ff:"DejaVu Sans"}], marks:[line(vxdSpikeBlueL, C.her, 1.3), ...bands(vxdBlueL, C.her), ...bands(vxdRedL, C.ler), line(vxdSpikeRedL, C.ler, 1.3)]}
];
panelsL.forEach(p => addPanel(chartL, p));

// ================= RIGHT CHART =================
const chartR = {svgLeft: 903, plotLeft: 1003, plotRight: 1636, xDom: [-0.13, 8.876], zeroShift: -2.6, dateDx: -54.4, dateDy: 47.5, expDx: -63};
const panelsR = [
 {top:53.3, bottom:112.3, yDom:[0,52300], ticks:[0,10000,20000,30000,40000,50000], minor:2000, dash:true,
  titles:[{s:"Luminosity", dx:-51.3, fs:11.5}], marks:[line(lumR, C.lum, 1.4)]},
 {top:112.3, bottom:172.3, yDom:[0,1700], ticks:[0,500,1000,1500], minor:100, dash:true,
  titles:[{s:"I[mA]", dx:-42.3}], marks:[line(lerR, C.ler, 1.6), line(herR, C.her, 1.6)]},
 {top:172.3, bottom:231.3, yDom:[0,13.6], ticks:[0,5,10], minor:1, dash:true,
  titles:[{s:"Rep.", dx:-41.3},{s:"Rate[Hz]", dx:-26.3}], marks:[line(repR, C.repH, 1.4)]},
 {top:231.3, bottom:291, yDom:[-0.12,2.27], ticks:[0,0.5,1,1.5,2], minor:0.1,
  titles:[{s:"Q[nC]", dx:-34.7}], marks:[...bands(q2R, C.q2), ...bands(q1R, C.q1), ...lines(q1LineR, C.q1, 1.6), dots(q1DotsR, C.q1)]},
 {top:291, bottom:350, yDom:[-0.11,2.07], ticks:[0,0.5,1,1.5,2], minor:0.1,
  titles:[{s:"[mA/s]", dx:-34.7}], marks:[...bands(injR, C.inj), dots(injDotsR, C.inj)]},
 {top:350, bottom:414, yDom:[-7.4,111.8], ticks:[0,20,40,60,80,100], minor:5,
  titles:[{s:"[%]", dx:-34.7, fs:10.5}], marks:[line(effBaseR, C.eff, 2.2), ...bands(effR, C.eff), dots(effDotsR, C.eff)]},
 {top:414, bottom:499.3, yDom:[0,9700], ticks:[0,2000,4000,6000,8000], minor:400,
  titles:[{s:"ECL_FW", dx:-46.3, fs:12}], marks:[...lines(eclfwLinesR, C.ecl, 1.2), ...bands(eclfwR, C.ecl)]},
 {top:499.3, bottom:584.3, yDom:[0,40.5], ticks:[0,10,20,30],
  titles:[{s:"[ms]", dx:-29}], marks:[...zig(bgR, C.bg), ...lines(bgFlatR, C.bg, 1.2)]},
 {top:584.3, bottom:669.3, yDom:[0,5], ticks:[0,1,2,3,4,5], minor:0.2, exp:"5",
  titles:[{s:"Photon", dx:-31.3},{s:"Rate", dx:-16.3}], marks:[line(srR, C.ler, 1.3), line(srR, C.sr, 1.3)]},
 {top:669.3, bottom:754.3, yDom:[0,6.25], ticks:[0,1,2,3,4,5,6], minor:0.2, exp:"6",
  titles:[{s:"[Hz]", dx:-19.7}], marks:[line(topBaseR, C.top, 1.3), ...bands(topR, C.top)]},
 {top:754.3, bottom:840, yDom:[0,280], ticks:[0,50,100,150,200,250], minor:10,
  titles:[{s:"[uA]", dx:-39.7, bold:true, fs:12}], marks:[...lines(cdcLinesR, C.cdcav, 1.4), ...bands(cdcavR, C.cdcav), ...bands(cdcR, C.cdc)]},
 {top:840, bottom:925, yDom:[0,512], ticks:[0,100,200,300,400,500], minor:20,
  titles:[{s:"[mRad/s]", dx:-39.7, bold:true, fs:12}], marks:[line(diaBaseR, C.dia, 1.4), ...bands(diaR, C.dia)]},
 {top:925, bottom:1010, yDom:[0,4930], ticks:[0,1000,2000,3000,4000], minor:200, xlabels:true,
  titles:[{s:"VXD", dx:-43.7, fs:10.5, ff:"DejaVu Sans"}], marks:[...bands(vxdRedR, C.ler), ...bands(vxdBlueR, C.her), line(vxdLineR, C.her, 1.3)]}
];
panelsR.forEach(p => addPanel(chartR, p));

// ================= LEGENDS =================
const legendsL = [
 {x:795.7,y:248.3,w:84.6,h:45.7, sx:6, sw:40, tx:52, rows:[{cy:14,kind:"line",c:C.ler,s:"LER"},{cy:32,kind:"line",c:C.her,s:"HER"}]},
 {x:780.3,y:300.7,w:100,h:38.6, sx:7, sw:39.4, tx:53, rows:[{cy:19,kind:"line",c:C.repL,s:"LER",big:true}]},
 {x:733.7,y:361.7,w:146.6,h:45.6, sx:7.6, tx:33, rows:[{cy:13.6,kind:"dot",c:C.q1,s:"QMD11P_1(nC)"},{cy:31.6,kind:"dot",c:C.q2,s:"QMD11P_2(nC)"}]},
 {x:769.3,y:417.3,w:111,h:28, sx:8, tx:33, rows:[{cy:14,kind:"dot",c:C.inj,s:"Inj.Rate"}]},
 {x:724.3,y:473.3,w:156,h:64, sx:7.7, tx:33.4, rows:[{cy:14,kind:"dot",c:"#111",s:"Inj.Eff(BCM1)"},{cy:32,kind:"dot",c:"#888",s:"Inj.Eff(BCM2)"},{cy:50,kind:"none",s:"Inj.Eff"}]},
 {x:768.3,y:533.3,w:112,h:28.4, sx:7, sw:39.7, tx:51.7, rows:[{cy:14,kind:"line",c:C.ecl,s:"ECL_BW"}]},
 {x:750.3,y:604.3,w:130,h:46, sx:7, sw:39.4, tx:52, swatch:{cy:23,c:C.bg}, rows:[{cy:13.7,kind:"none",s:"ECL BG"},{cy:31.7,kind:"none",s:"Duration"}]},
 {x:750.3,y:693.7,w:130,h:28, sx:7, sw:39.4, tx:52, rows:[{cy:13.6,kind:"line",c:C.top,s:"TOP [Hz]"}]},
 {x:768.3,y:774.3,w:112,h:46, sx:7, sw:39.7, tx:51.7, rows:[{cy:14,kind:"line",c:C.cdc,s:"CDC"},{cy:32,kind:"line",c:C.cdcav,s:"CDC_av"}]},
 {x:759.3,y:854.3,w:121,h:28, sx:6.7, sw:40, tx:52, rows:[{cy:14,kind:"line",c:C.dia,s:"Diamond"}]},
 {x:741.3,y:934.3,w:139,h:46, sx:7, sw:39.4, tx:52, rows:[{cy:14,kind:"line",c:C.her,s:"VXD_FW225"},{cy:32,kind:"line",c:C.ler,s:"VXD_FW135"}]}
];
const legendsR = [
 {x:1697.3,y:128.3,w:85.4,h:46, sx:7, sw:39.4, tx:51.7, rows:[{cy:14,kind:"line",c:C.ler,s:"LER"},{cy:32,kind:"line",c:C.her,s:"HER"}]},
 {x:1682.3,y:183.3,w:100.4,h:39, sx:7, sw:39.7, tx:51.7, rows:[{cy:19,kind:"line",c:C.repH,s:"HER",big:true}]},
 {x:1644.3,y:247.3,w:138.4,h:46, sx:8, tx:33, rows:[{cy:14.4,kind:"dot",c:C.q1,s:"QMD8E_1(nC)"},{cy:32.4,kind:"dot",c:C.q2,s:"QMD8E_2(nC)"}]},
 {x:1671.3,y:307.3,w:111.4,h:28, sx:8, tx:33, rows:[{cy:14,kind:"dot",c:C.inj,s:"Inj.Rate"}]},
 {x:1626.7,y:366.7,w:156,h:64, sx:7.6, tx:33.3, rows:[{cy:13.6,kind:"dot",c:"#111",s:"Inj.Eff(BCM1)"},{cy:31.6,kind:"dot",c:"#888",s:"Inj.Eff(BCM2)"},{cy:49.6,kind:"none",s:"Inj.Eff"}]},
 {x:1670.3,y:430.7,w:112.4,h:28, sx:7, sw:39.4, tx:52, rows:[{cy:13.3,kind:"line",c:C.ecl,s:"ECL_FW"}]},
 {x:1652.3,y:506.7,w:130.4,h:46, sx:6.7, sw:39.7, tx:52, swatch:{cy:22.6,c:C.bg}, rows:[{cy:13.3,kind:"none",s:"ECL BG"},{cy:31.3,kind:"none",s:"Duration"}]},
 {x:1679.3,y:600.3,w:103.4,h:46, sx:6.7, sw:39.7, tx:52, rows:[{cy:14,kind:"line",c:C.sr,s:"SR_FW"},{cy:32,kind:"line",c:C.ler,s:"SR_BW"}]},
 {x:1652.3,y:685.3,w:130.4,h:28, sx:6.7, sw:39.7, tx:52, rows:[{cy:14,kind:"line",c:C.top,s:"TOP [Hz]"}]},
 {x:1670.3,y:770.7,w:112.4,h:45.6, sx:7, sw:39.4, tx:52, rows:[{cy:13.6,kind:"line",c:C.cdc,s:"CDC"},{cy:31.6,kind:"line",c:C.cdcav,s:"CDC_av"}]},
 {x:1661.3,y:856.3,w:121.4,h:28, sx:6.7, sw:39.7, tx:52, rows:[{cy:14,kind:"line",c:C.dia,s:"Diamond"}]},
 {x:1643.3,y:941.7,w:139.4,h:46, sx:6.7, sw:40, tx:52, rows:[{cy:13.6,kind:"line",c:C.ler,s:"VXD_BW180"},{cy:31.6,kind:"line",c:C.her,s:"VXD_BW270"}]}
];
legendsL.forEach(addLegend);
legendsR.forEach(addLegend);
</script>
</body>
</html>
